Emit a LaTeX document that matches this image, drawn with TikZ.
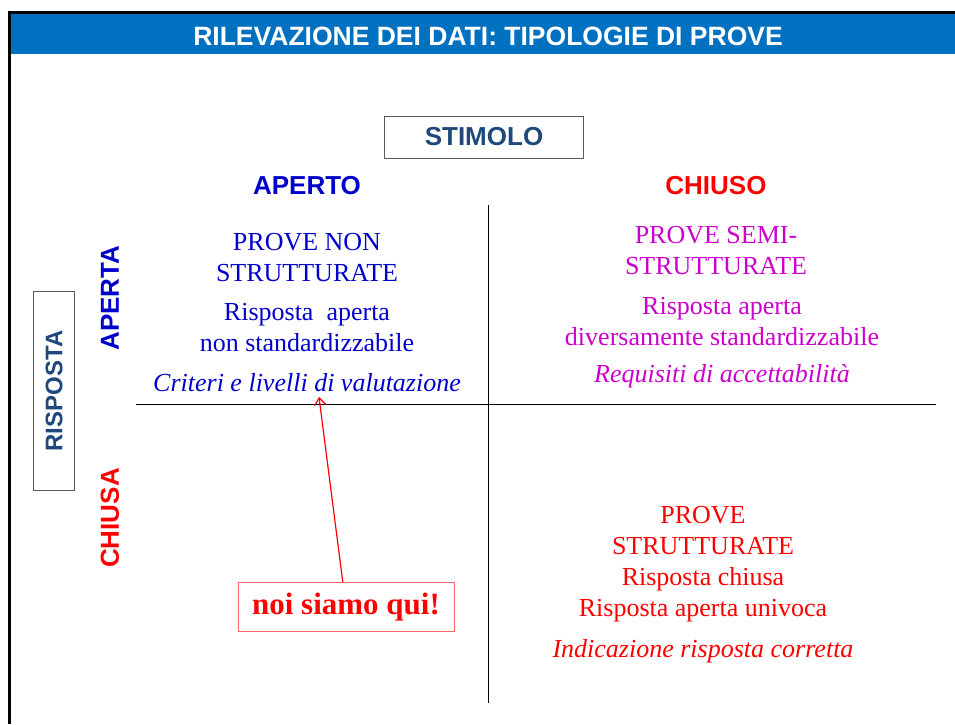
\documentclass[tikz,border=0pt]{standalone}
\usepackage{fontspec}
\setmainfont{Liberation Serif}
\setsansfont{Liberation Sans}
\usetikzlibrary{arrows.meta}
\definecolor{headblue}{RGB}{0,112,192}
\definecolor{boxblue}{RGB}{31,73,125}
\definecolor{openblue}{RGB}{0,0,204}
\definecolor{semimag}{RGB}{204,0,204}
\definecolor{closedred}{RGB}{255,0,0}
\begin{document}
\begin{tikzpicture}[x=1pt,y=-1pt,
    axis/.style={font=\sffamily\bfseries\fontsize{26}{30}\selectfont},
    tag/.style={draw=gray!70!black,line width=1pt,font=\sffamily\bfseries\fontsize{24}{28}\selectfont,text=boxblue},
    quad/.style={align=center,font=\fontsize{26}{31}\selectfont},
    hint/.style={font=\itshape\fontsize{26}{31}\selectfont}]
  \useasboundingbox (0,0) rectangle (955,724);
  \fill[headblue] (10,14) rectangle (955,54);
  \draw[line width=3pt] (9,724) -- (9,12) -- (955,12);
  \node[text=white,font=\sffamily\bfseries\fontsize{26.5}{30}\selectfont] (title) at (488,36) {RILEVAZIONE DEI DATI: TIPOLOGIE DI PROVE};

  \node[tag,minimum width=199pt,minimum height=42pt,font=\sffamily\bfseries\fontsize{26}{30}\selectfont] (stimolo) at (484,137) {STIMOLO};
  \node[tag,rotate=90,minimum width=199pt,minimum height=41pt] (risposta) at (54,391) {RISPOSTA};

  \node[axis,text=openblue] (aperto) at (307,186) {APERTO};
  \node[axis,text=closedred] (chiuso) at (716,186) {CHIUSO};
  \node[axis,text=openblue,rotate=90] (aperta) at (110,298) {APERTA};
  \node[axis,text=closedred,rotate=90] (chiusa) at (110,518) {CHIUSA};

  \coordinate (vtop) at (488,205);
  \coordinate (vbot) at (488,703);
  \coordinate (hleft) at (136,404);
  \coordinate (hright) at (936,404);
  \draw[line width=1pt] (vtop) -- (vbot);
  \draw[line width=1pt] (hleft) -- (hright);

  \node[quad,text=openblue] (nonstr) at (307,258) {PROVE NON\\STRUTTURATE};
  \node[quad,text=openblue] (nonstrtxt) at (307,328) {Risposta\ \ aperta\\non standardizzabile};
  \node[hint,text=openblue] (criteri) at (307,383) {Criteri e livelli di valutazione};

  \node[quad,text=semimag] (semi) at (716,251) {PROVE SEMI-\\STRUTTURATE};
  \node[quad,text=semimag] (semitxt) at (722,322) {Risposta aperta\\diversamente standardizzabile};
  \node[hint,text=semimag] (requisiti) at (722,376) {Requisiti di accettabilità};

  \node[quad,text=closedred] (str) at (703,531) {PROVE\\STRUTTURATE};
  \node[quad,text=closedred] (strtxt) at (703,595) {Risposta chiusa\\Risposta aperta univoca};
  \node[hint,text=closedred] (indic) at (703,651) {Indicazione risposta corretta};

  \node[draw=closedred!60,line width=1pt,text=closedred,minimum width=216pt,minimum height=49pt,font=\bfseries\fontsize{31}{36}\selectfont] (noi) at (346,607) {noi siamo qui!};
  \coordinate (qui) at (319,397);
  \draw[closedred,line width=1.2pt,-{Straight Barb[length=7pt,width=11pt]}] (noi) -- (qui);
\end{tikzpicture}
\end{document}
